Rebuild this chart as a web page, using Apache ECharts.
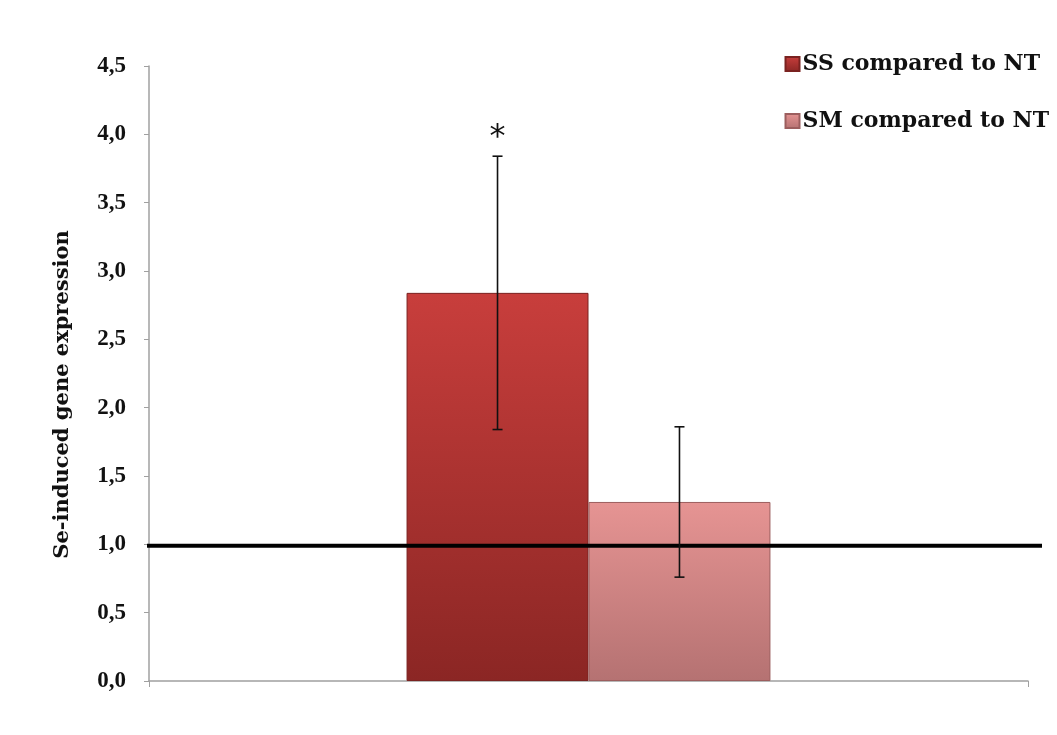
<!DOCTYPE html>
<html>
<head>
<meta charset="utf-8">
<script src="https://cdn.jsdelivr.net/npm/echarts@6/dist/echarts.min.js"></script>
<style>
  html, body { margin: 0; padding: 0; background: #fff; }
  #chart { width: 1057px; height: 735px; }
</style>
</head>
<body>
<div id="chart"></div>
<script>
// Expression relative to NT, with standard-error spread and significance mark
const categories = ['Se'];
const seriesNames = ['SS compared to NT', 'SM compared to NT'];
const means = [2.84, 1.31];
const errors = [1.0, 0.55];
const significance = ['*', ''];
const yTicks = [0, 0.5, 1.0, 1.5, 2.0, 2.5, 3.0, 3.5, 4.0, 4.5];
const baseline = 0.99;

const barWidthPct = 0.207;
const serif = '"Liberation Serif", "Times New Roman", serif';
const wideSerif = '"DejaVu Serif", "Liberation Serif", serif';

const fills = [
  { top: '#c83e3c', bottom: '#8b2624', border: '#7a2220' },
  { top: '#e69493', bottom: '#b57272', border: '#9c5e5e' }
];

function barColor(f) {
  return new echarts.graphic.LinearGradient(0, 0, 0, 1, [
    { offset: 0, color: f.top },
    { offset: 1, color: f.bottom }
  ]);
}

const chart = echarts.init(document.getElementById('chart'));

const barSeries = seriesNames.map((name, i) => ({
  name: name,
  type: 'bar',
  xAxisIndex: 0,
  yAxisIndex: 0,
  barWidth: (barWidthPct * 100) + '%',
  barGap: '0%',
  data: [means[i]],
  itemStyle: { color: barColor(fills[i]), borderColor: fills[i].border, borderWidth: 1 },
  emphasis: { disabled: true },
  z: 2
}));

// Error bars with caps, plus the significance star above the upper cap
const errorSeries = {
  type: 'custom',
  xAxisIndex: 0,
  yAxisIndex: 0,
  data: means.map((m, i) => [i, m - errors[i], m + errors[i]]),
  renderItem: function (params, api) {
    const idx = api.value(0);
    const catW = api.size([1, 0])[0];
    const bw = catW * barWidthPct;
    const center = api.coord([0, 0])[0];
    const x = center + (idx === 0 ? -bw / 2 : bw / 2);
    const lo = api.coord([0, api.value(1)])[1];
    const hi = api.coord([0, api.value(2)])[1];
    const cap = 5;
    const style = { stroke: '#111', lineWidth: 1.6 };
    const children = [
      { type: 'line', shape: { x1: x, y1: lo, x2: x, y2: hi }, style: style },
      { type: 'line', shape: { x1: x - cap, y1: hi, x2: x + cap, y2: hi }, style: style },
      { type: 'line', shape: { x1: x - cap, y1: lo, x2: x + cap, y2: lo }, style: style }
    ];
    if (significance[idx]) {
      children.push({
        type: 'text',
        style: {
          x: x, y: hi - 3, text: significance[idx],
          font: '32px "DejaVu Sans", sans-serif', fill: '#111',
          align: 'center', verticalAlign: 'bottom'
        }
      });
    }
    return { type: 'group', children: children };
  },
  z: 5
};

// Reference line near 1.0, spanning slightly wider than the plot
const baselineSeries = {
  type: 'line',
  xAxisIndex: 1,
  yAxisIndex: 1,
  data: [[0, baseline], [1, baseline]],
  symbol: 'none',
  lineStyle: { color: '#000', width: 4 },
  silent: true,
  z: 4
};

chart.setOption({
  animation: false,
  backgroundColor: '#fff',
  legend: {
    data: seriesNames.map((n, i) => ({ name: n, itemStyle: { color: barColor(fills[i]) } })),
    orient: 'vertical',
    right: 3,
    top: 48,
    itemGap: 35,
    itemWidth: 14,
    itemHeight: 14,
    icon: 'rect',
    selectedMode: false,
    textStyle: { fontFamily: wideSerif, fontWeight: 'bold', fontSize: 22, color: '#111', padding: [0, 0, 0, -2] }
  },
  grid: [
    { left: 149, right: 29, top: 66, bottom: 54 },
    { left: 147, right: 15, top: 66, bottom: 54 }
  ],
  xAxis: [
    {
      type: 'category',
      gridIndex: 0,
      data: categories,
      axisLine: { lineStyle: { color: '#a0a0a0', width: 1.5 } },
      axisTick: { show: true, length: 6, lineStyle: { color: '#a0a0a0' } },
      axisLabel: { show: false }
    },
    {
      type: 'value',
      gridIndex: 1,
      min: 0,
      max: 1,
      show: false
    }
  ],
  yAxis: [
    {
      type: 'value',
      gridIndex: 0,
      min: 0,
      max: 4.5,
      interval: 0.5,
      name: 'Se-induced gene expression',
      nameLocation: 'middle',
      nameGap: 76,
      nameRotate: 90,
      nameTextStyle: { fontFamily: wideSerif, fontWeight: 'bold', fontSize: 21, color: '#111', padding: [0, 0, 0, -42] },
      axisLine: { show: true, lineStyle: { color: '#a0a0a0', width: 1.5 } },
      axisTick: { show: true, length: 5, lineStyle: { color: '#a0a0a0' } },
      splitLine: { show: false },
      axisLabel: {
        margin: 23,
        fontFamily: serif,
        fontWeight: 'bold',
        fontSize: 23,
        color: '#111',
        formatter: function (v) {
          const t = yTicks.find(k => Math.abs(k - v) < 1e-9);
          return (t !== undefined ? t : v).toFixed(1).replace('.', ',');
        }
      }
    },
    {
      type: 'value',
      gridIndex: 1,
      min: 0,
      max: 4.5,
      show: false
    }
  ],
  series: barSeries.concat([errorSeries, baselineSeries])
});
</script>
</body>
</html>
